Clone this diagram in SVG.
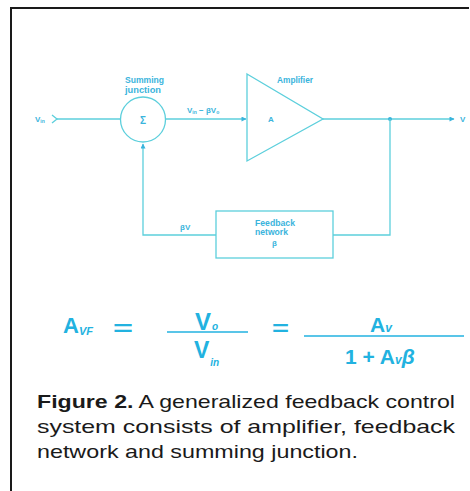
<svg xmlns="http://www.w3.org/2000/svg" width="470" height="491" viewBox="0 0 470 491">
<style>
.ln{stroke:#5ccfdc;stroke-width:1.3;fill:none}
.lb{fill:#3ab4dc;font-family:"Liberation Sans",Arial,sans-serif;font-weight:bold}
.eq{fill:#22b2e0;font-family:"Liberation Sans",Arial,sans-serif;font-weight:bold}
.sub{font-style:italic}
.cap{fill:#1a1a1a;font-family:"Liberation Sans",Arial,sans-serif;font-size:19px}
</style>
<defs>
<marker id="ah" viewBox="0 0 10 10" refX="9" refY="5" markerWidth="6" markerHeight="5" orient="auto" markerUnits="userSpaceOnUse">
<path d="M0,0 L10,5 L0,10 z" fill="#3ab4dc"/>
</marker>
</defs>
<rect width="470" height="491" fill="#ffffff"/>
<g id="frame">
<path d="M11,491 L11,8 L469,8" stroke="#1a1a1a" stroke-width="2" fill="none"/>
</g>
<g id="connectors">
<path class="ln" d="M52,115 L57,119 L52,123"/>
<path class="ln" d="M57,119 L121,119"/>
<path class="ln" d="M166,119 L246,119" marker-end="url(#ah)"/>
<path class="ln" d="M323,119 L454,119" marker-end="url(#ah)"/>
<circle cx="390" cy="119" r="2" fill="#3ab4dc"/>
<path class="ln" d="M390,119 L390,235 L333,235"/>
<path class="ln" d="M216,235 L143,235 L143,144" marker-end="url(#ah)"/>
<text class="lb" x="35" y="122" font-size="8" font-weight="normal">V<tspan font-size="5" dy="1">in</tspan></text>
<text class="lb" x="187" y="113" font-size="8">V<tspan font-size="5" dy="1">in</tspan><tspan dy="-1"> − βV</tspan><tspan font-size="5" dy="1">o</tspan></text>
<text class="lb" x="180" y="230" font-size="8">βV</text>
<text class="lb" x="460" y="122" font-size="8">V</text>
</g>
<g id="summing">
<circle class="ln" cx="143" cy="119.5" r="22.5"/>
<text class="lb" x="143" y="124" font-size="10" text-anchor="middle" font-weight="normal">Σ</text>
<text class="lb" x="125" y="83" font-size="8.5" textLength="39" lengthAdjust="spacingAndGlyphs">Summing</text>
<text class="lb" x="125" y="93" font-size="8.5" textLength="36" lengthAdjust="spacingAndGlyphs">junction</text>
</g>
<g id="amplifier">
<path class="ln" d="M247,74 L323,119 L247,161 Z"/>
<text class="lb" x="268" y="122" font-size="8">A</text>
<text class="lb" x="277" y="83" font-size="8.5" textLength="36" lengthAdjust="spacingAndGlyphs">Amplifier</text>
</g>
<g id="feedback">
<rect class="ln" x="216" y="211" width="117" height="47"/>
<text class="lb" x="255" y="226" font-size="8.5" textLength="40" lengthAdjust="spacingAndGlyphs">Feedback</text>
<text class="lb" x="255" y="235" font-size="8.5" textLength="33" lengthAdjust="spacingAndGlyphs">network</text>
<text class="lb" x="272" y="246" font-size="8" font-weight="normal">β</text>
</g>
<g id="equation">
<text class="eq" x="63" y="333" font-size="22">A<tspan class="sub" font-size="11" dy="2">VF</tspan></text>
<text class="eq" x="113" y="335" font-size="20" textLength="20" lengthAdjust="spacingAndGlyphs">=</text>
<path d="M167,332 L248,332" stroke="#22b2e0" stroke-width="1.6"/>
<text class="eq" x="195" y="330" font-size="24">V<tspan class="sub" font-size="10" dx="1">o</tspan></text>
<text class="eq" x="194" y="358" font-size="23">V<tspan class="sub" font-size="10" dx="1" dy="8">in</tspan></text>
<text class="eq" x="272" y="335" font-size="20" textLength="17" lengthAdjust="spacingAndGlyphs">=</text>
<path d="M304,336 L464,336" stroke="#22b2e0" stroke-width="1.6"/>
<text class="eq" x="370" y="332" font-size="21">A<tspan class="sub" font-size="12" dy="0">v</tspan></text>
<text class="eq" x="345" y="364" font-size="21">1 + A<tspan class="sub" font-size="12">v</tspan><tspan font-size="21" font-style="italic">β</tspan></text>
</g>
<g id="caption">
<text class="cap" x="37" y="408" textLength="418" lengthAdjust="spacingAndGlyphs"><tspan font-weight="bold">Figure 2.</tspan> A generalized feedback control</text>
<text class="cap" x="37" y="433" textLength="418" lengthAdjust="spacingAndGlyphs">system consists of amplifier, feedback</text>
<text class="cap" x="37" y="458" textLength="321" lengthAdjust="spacingAndGlyphs">network and summing junction.</text>
</g>
</svg>
